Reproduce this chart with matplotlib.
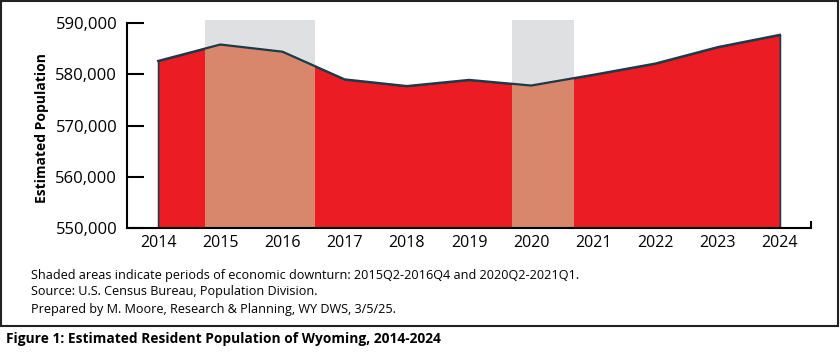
import matplotlib
matplotlib.use("Agg")
import matplotlib.pyplot as plt
from matplotlib.patches import Rectangle
from matplotlib.ticker import FuncFormatter

# =====================================================
# Data
# =====================================================
years = [2014, 2015, 2016, 2017, 2018, 2019, 2020, 2021, 2022, 2023, 2024]
population = [582600, 585800, 584400, 579000, 577700, 578900,
              577800, 579900, 582100, 585300, 587700]

# downturn periods, in chart x units
downturns = [(2014.75, 2016.52), (2019.69, 2020.69)]

notes = [
    "Shaded areas indicate periods of economic downturn: 2015Q2-2016Q4 and 2020Q2-2021Q1.",
    "Source: U.S. Census Bureau, Population Division.",
    "Prepared by M. Moore, Research & Planning, WY DWS, 3/5/25.",
]
caption = "Figure 1: Estimated Resident Population of Wyoming, 2014-2024"

# =====================================================
# Plot
# =====================================================
plt.rcParams["font.family"] = ["Open Sans", "DejaVu Sans"]

red = "#EC1C24"
line_col = "#1d3a48"
shade_gray = "#dfe0e2"
shade_on_red = "#d8866c"

fig = plt.figure(figsize=(8.4, 3.59), dpi=100)
ax = fig.add_axes([127 / 840, 1 - 228 / 359, (811 - 127) / 840, (228 - 23) / 359])

area = ax.fill_between(years, population, 550000, facecolor=red,
                       edgecolor=line_col, linewidth=1.2, zorder=2)
ax.plot(years, population, color=line_col, linewidth=1.6, zorder=3)

area_path = area.get_paths()[0]
for start, end in downturns:
    # gray band behind the area, reaching a bit above the top tick
    ax.axvspan(start, end, ymin=0, ymax=1.013, color=shade_gray,
               linewidth=0, zorder=1, clip_on=False)
    # the same band where it overlays the red area
    over = ax.axvspan(start, end, color=shade_on_red, linewidth=0, zorder=2.5)
    over.set_clip_path(area_path, ax.transData)

ax.set_xlim(2013.5, 2024.5)
ax.set_ylim(550000, 590000)
ax.set_xticks(years)
ax.set_xticks([2024.5], minor=True)
ax.set_yticks([550000, 560000, 570000, 580000, 590000])
ax.yaxis.set_major_formatter(FuncFormatter(lambda v, p: f"{int(v):,}"))

ax.tick_params(axis="x", which="major", length=0, pad=5, labelsize=11.5)
ax.tick_params(axis="x", which="minor", direction="in", length=5, width=1.5)
ax.tick_params(axis="y", direction="in", length=12, width=1.5, pad=7,
               labelsize=12)

for side in ["top", "right"]:
    ax.spines[side].set_visible(False)
for side in ["left", "bottom"]:
    ax.spines[side].set_linewidth(1.5)
    ax.spines[side].set_color("black")
    ax.spines[side].set_zorder(5)

fig.text(42 / 840, 1 - 128 / 359, "Estimated Population", rotation=90,
         ha="center", va="center", fontsize=10, fontweight="bold")

# footnotes
for i, note in enumerate(notes):
    fig.text(31 / 840, 1 - (275 + 17 * i) / 359, note, ha="left",
             va="center", fontsize=9.1)

# border around chart
fig.patches.append(Rectangle((1 / 840, 1 - 326 / 359), 837 / 840, 325 / 359,
                             transform=fig.transFigure, fill=False,
                             edgecolor="#222222", linewidth=1.5))

fig.text(6 / 840, 1 - 339 / 359, caption, ha="left", va="center",
         fontsize=9.9, fontweight="bold")

fig.savefig("out.png", dpi=100)
